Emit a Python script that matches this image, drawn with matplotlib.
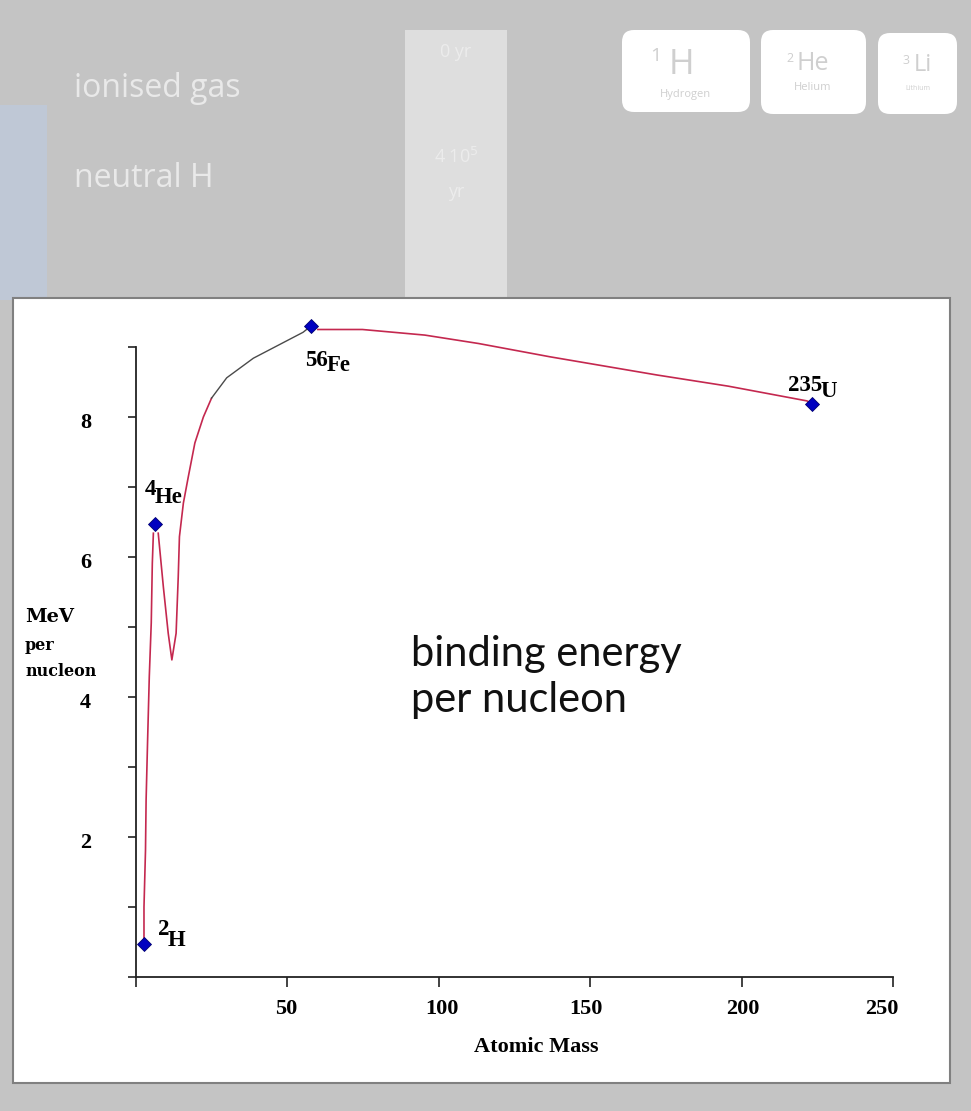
import matplotlib
matplotlib.use('Agg')
import matplotlib.pyplot as plt
from matplotlib.patches import FancyBboxPatch, Rectangle
from matplotlib.transforms import ScaledTranslation

# curve, red and dark stretches
rise_mass = [2.8, 2.8, 3.3, 3.5, 4.0, 4.55, 5.2, 5.55, 5.9]
rise_energy = [0.47, 1.0, 1.81, 2.53, 3.39, 4.29, 5.06, 5.91, 6.34]
dip_mass = [7.5, 9.2, 10.8, 12.0, 13.4, 14.1, 14.5, 15.8, 17.4, 19.6, 22.4, 25.1]
dip_energy = [6.34, 5.57, 4.91, 4.53, 4.91, 5.71, 6.29, 6.77, 7.14, 7.63, 8.0, 8.27]
knee_mass = [25.1, 30.1, 38.9, 55.3, 57.9]
knee_energy = [8.27, 8.56, 8.84, 9.21, 9.3]
tail_mass = [60.2, 74.9, 95.5, 113.2, 136.8, 172.1, 195.7, 221.6, 223.3]
tail_energy = [9.25, 9.25, 9.17, 9.05, 8.86, 8.6, 8.44, 8.23, 8.19]

point_mass = [2.8, 6.4, 57.9, 223.3]
point_energy = [0.47, 6.47, 9.3, 8.19]

# isotope labels: mass number, symbol, position of the mass number
iso_number = ['2', '4', '56', '235']
iso_symbol = ['H', 'He', 'Fe', 'U']
iso_x = [7.4, 3.1, 55.9, 215.2]
iso_y = [0.6, 6.89, 8.73, 8.37]
iso_drop = [-4, -2.6, 0.2, -0.5]

x_ticks = [0, 50, 100, 150, 200, 250]
x_labels = ['', '50', '100', '150', '200', '250']
x_label_shift = [0, -1, 3, -4, 1, -11]
y_ticks = [0, 1, 2, 3, 4, 5, 6, 7, 8, 9]
y_labels = ['', '', '2', '', '4', '', '6', '', '8', '']

RED = '#c4284f'
DARK = '#4a4a4a'
BG = '#c4c4c4'
W, H = 971, 1111

fig = plt.figure(figsize=(W / 100, H / 100), dpi=100, facecolor=BG)

# slide behind the chart, in pixels
bg = fig.add_axes([0, 0, 1, 1])
bg.set_xlim(0, W)
bg.set_ylim(H, 0)
bg.axis('off')
bg.add_patch(Rectangle((0, 105), 47, 195, color='#bfc8d6', lw=0))
bg.add_patch(Rectangle((405, 30), 102, 270, color='#dedede', lw=0))
bg.text(74, 97, 'ionised gas', color='#e9e9e9', fontsize=23, family='Open Sans')
bg.text(74, 187, 'neutral H', color='#e9e9e9', fontsize=23, family='Open Sans')
bg.text(456, 52, '0 yr', color='#ececec', fontsize=13, ha='center', va='center', family='Open Sans')
bg.text(456, 157, '4 10$^5$', color='#ececec', fontsize=13, ha='center', va='center', family='Open Sans')
bg.text(456, 192, 'yr', color='#ececec', fontsize=13, ha='center', va='center', family='Open Sans')

boxes = [(622, 30, 128, 82), (761, 30, 105, 84), (878, 33, 79, 81)]
for bx, by, bw, bh in boxes:
    bg.add_patch(FancyBboxPatch((bx + 12, by + 12), bw - 24, bh - 24,
                                boxstyle='round,pad=12,rounding_size=12', fc='white', ec='none'))
GREY = '#cfcfcf'
bg.text(681, 65, 'H', color=GREY, fontsize=25, ha='center', va='center', family='Open Sans')
bg.text(656, 56, '1', color=GREY, fontsize=14, ha='center', va='center', family='Open Sans')
bg.text(685, 95, 'Hydrogen', color=GREY, fontsize=8, ha='center', va='center', family='Open Sans')
bg.text(813, 63, 'He', color=GREY, fontsize=18, ha='center', va='center', family='Open Sans')
bg.text(790, 58, '2', color=GREY, fontsize=9, ha='center', va='center', family='Open Sans')
bg.text(813, 88, 'Helium', color=GREY, fontsize=8, ha='center', va='center', family='Open Sans')
bg.text(923, 65, 'Li', color=GREY, fontsize=17, ha='center', va='center', family='Open Sans')
bg.text(906, 60, '3', color=GREY, fontsize=9, ha='center', va='center', family='Open Sans')
bg.text(918, 88, 'Lithium', color=GREY, fontsize=5, ha='center', va='center', family='Open Sans')

bg.add_patch(Rectangle((13, 298), 937, 785, fc='white', ec='#808080', lw=1.5))

# the chart itself
ax = fig.add_axes([135.5 / W, 1 - 977 / H, (893 - 135.5) / W, (977 - 347) / H])
ax.patch.set_alpha(0)
ax.set_xlim(0, 250)
ax.set_ylim(0, 9)
ax.spines['top'].set_visible(False)
ax.spines['right'].set_visible(False)
for side in ['left', 'bottom']:
    ax.spines[side].set_linewidth(1.3)
    ax.spines[side].set_color('#222222')

# curve and points run past the top of the axis
ax.plot(rise_mass, rise_energy, color=RED, lw=1.2, clip_on=False)
ax.plot(dip_mass, dip_energy, color=RED, lw=1.2, clip_on=False)
ax.plot(knee_mass, knee_energy, color=DARK, lw=1.0, clip_on=False)
ax.plot(tail_mass, tail_energy, color=RED, lw=1.2, clip_on=False)
ax.plot(point_mass, point_energy, 'D', color='#0000c0', ms=7.5, mec='#000070', mew=0.6, zorder=5, clip_on=False)

ax.set_xticks(x_ticks)
ax.set_xticklabels(x_labels, fontsize=16, fontweight='bold', family='Liberation Serif')
ax.set_yticks(y_ticks)
ax.set_yticklabels(y_labels, fontsize=16, fontweight='bold', family='Liberation Serif')
ax.tick_params(axis='x', length=7, width=1.2, pad=9, color='#222222')
ax.tick_params(axis='y', length=6, width=1.2, pad=26, color='#222222')
for lab, shift in zip(ax.get_xticklabels(), x_label_shift):
    lab.set_transform(lab.get_transform() + ScaledTranslation(shift / 100, 0, fig.dpi_scale_trans))
for lab in ax.get_yticklabels():
    lab.set_transform(lab.get_transform() + ScaledTranslation(0, -4 / 100, fig.dpi_scale_trans))

for num, sym, ix, iy, drop in zip(iso_number, iso_symbol, iso_x, iso_y, iso_drop):
    t = ax.text(ix, iy, num, fontsize=16.5, family='Liberation Serif', fontweight='bold', va='baseline')
    ax.annotate(sym, xy=(1, 0), xycoords=t, xytext=(-1, drop), textcoords='offset points',
                fontsize=16.5, family='Liberation Serif', fontweight='bold', va='baseline')

ax.set_xlabel('Atomic Mass', fontsize=16, fontweight='bold', family='Liberation Serif', labelpad=13, x=0.529)

bg.text(25, 622, 'MeV', fontsize=14, fontweight='bold', family='DejaVu Serif', zorder=6)
bg.text(25, 650, 'per', fontsize=11.5, fontweight='bold', family='DejaVu Serif', zorder=6)
bg.text(25, 676, 'nucleon', fontsize=11.5, fontweight='bold', family='DejaVu Serif', zorder=6)

ax.text(91, 4.29, 'binding energy\nper nucleon', fontsize=30, family='Lato', linespacing=1.25,
        va='center', color='#111111')

fig.savefig('out.png', dpi=100, facecolor=BG)
